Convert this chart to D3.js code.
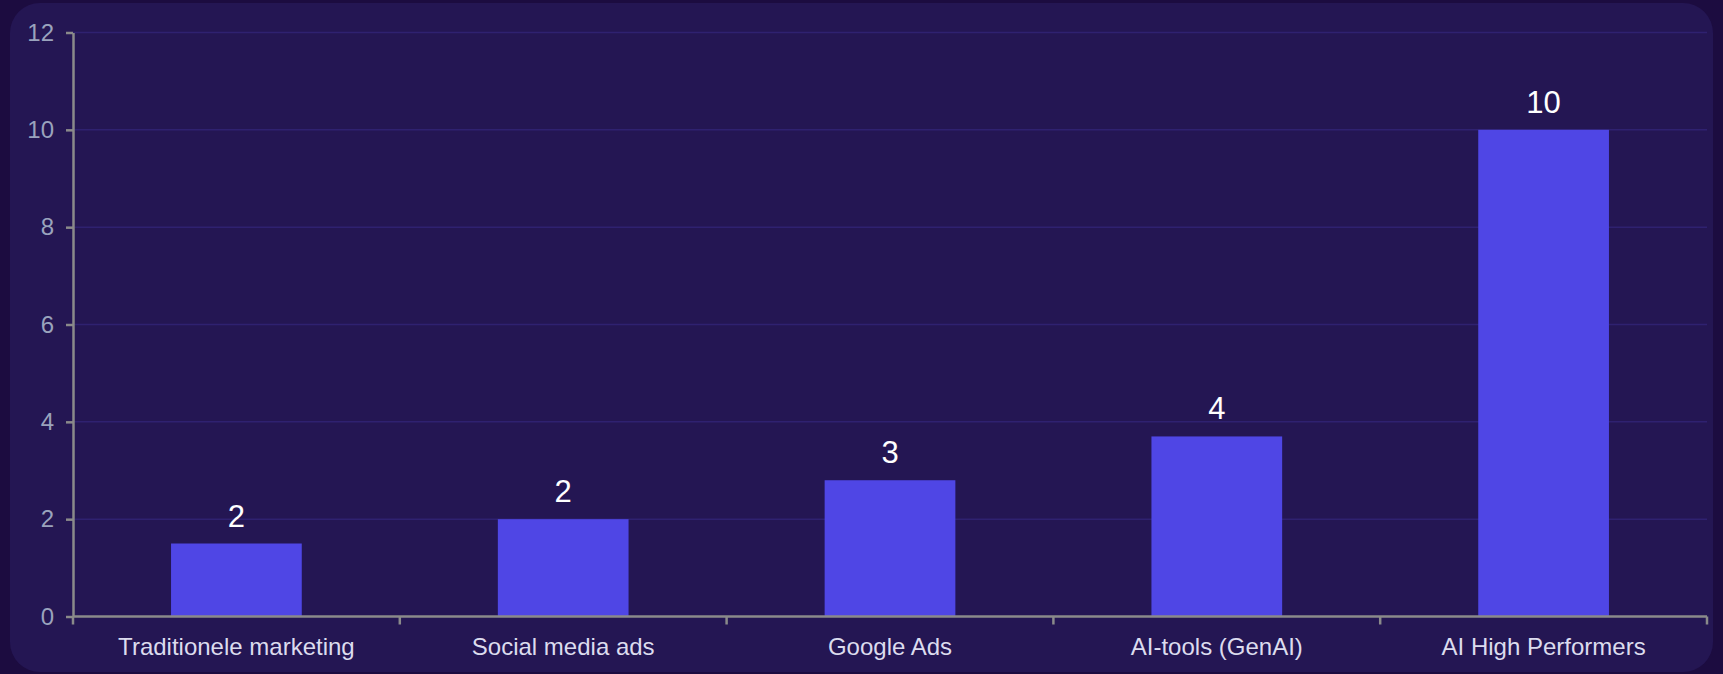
<!DOCTYPE html>
<html>
<head>
<meta charset="utf-8">
<script src="https://cdn.jsdelivr.net/npm/d3@7"></script>
<style>
  html, body { margin: 0; padding: 0; background: #1c0c40; }
  svg { display: block; }
</style>
</head>
<body>
<svg id="chart" width="1723" height="674"></svg>
<script>
const categories = ["Traditionele marketing", "Social media ads", "Google Ads", "AI-tools (GenAI)", "AI High Performers"];
const values = [1.5, 2.0, 2.8, 3.7, 10.0];
const yTicks = [0, 2, 4, 6, 8, 10, 12];

const W = 1723, H = 674;
const margin = { left: 73, right: 16, top: 32.5, bottom: 57.5 };
const svg = d3.select("#chart");

svg.append("rect").attr("x", 10).attr("y", 3).attr("width", 1703).attr("height", 669)
  .attr("rx", 30).attr("fill", "#241653");

const x = d3.scaleBand().domain(categories).range([margin.left, W - margin.right]).paddingInner(0).paddingOuter(0);
const y = d3.scaleLinear().domain([0, 12]).range([H - margin.bottom, margin.top]);

// grid
svg.append("g").selectAll("line").data(yTicks.filter(d => d !== 0)).join("line")
  .attr("x1", margin.left).attr("x2", W - margin.right)
  .attr("y1", d => y(d)).attr("y2", d => y(d))
  .attr("stroke", "#2f2170").attr("stroke-width", 1.5);

// bars
const bw = x.bandwidth() * 0.4;
svg.append("g").selectAll("rect").data(values).join("rect")
  .attr("x", (d, i) => x(categories[i]) + x.bandwidth() / 2 - bw / 2)
  .attr("width", bw)
  .attr("y", d => y(d))
  .attr("height", d => y(0) - y(d))
  .attr("fill", "#4f46e5");

// value labels
svg.append("g").selectAll("text").data(values).join("text")
  .attr("x", (d, i) => x(categories[i]) + x.bandwidth() / 2)
  .attr("y", d => y(d) - 17)
  .attr("text-anchor", "middle")
  .attr("fill", "#ffffff")
  .attr("font-family", "Liberation Sans, Arial, sans-serif")
  .attr("font-size", 31)
  .text(d => d3.format(".0f")(d));

// y axis
const yAxis = svg.append("g").attr("transform", `translate(${margin.left},0)`)
  .call(d3.axisLeft(y).tickValues(yTicks).tickSize(7).tickPadding(12).tickSizeOuter(0));
yAxis.select(".domain").attr("stroke", "#8a8a8a").attr("stroke-width", 2.5);
yAxis.selectAll(".tick line").attr("stroke", "#8a8a8a").attr("stroke-width", 2.5);
yAxis.selectAll(".tick text").attr("fill", "#9aa3bd")
  .attr("font-family", "Liberation Sans, Arial, sans-serif").attr("font-size", 24);

// x axis
const xAxis = svg.append("g").attr("transform", `translate(0,${y(0)})`)
  .call(d3.axisBottom(x).tickSize(0).tickPadding(21));
xAxis.select(".domain").attr("stroke", "#8a8a8a").attr("stroke-width", 2.5)
  .attr("d", `M${margin.left},0H${W - margin.right}`);
xAxis.selectAll(".tick text").attr("fill", "#dcdcee")
  .attr("font-family", "Liberation Sans, Arial, sans-serif").attr("font-size", 24);
// boundary ticks between categories
const bounds = categories.map(c => x(c)).concat([W - margin.right]);
xAxis.append("g").selectAll("line").data(bounds).join("line")
  .attr("x1", d => d).attr("x2", d => d).attr("y1", 0).attr("y2", 8)
  .attr("stroke", "#8a8a8a").attr("stroke-width", 2.5);
</script>
</body>
</html>
